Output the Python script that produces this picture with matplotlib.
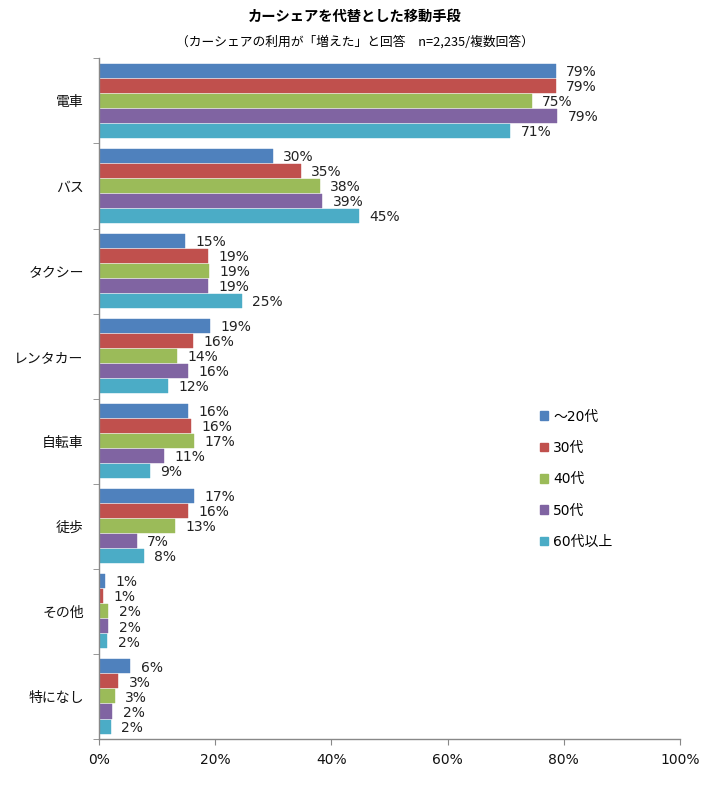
import matplotlib
matplotlib.use("Agg")
import matplotlib.pyplot as plt
from matplotlib.patches import Patch
import numpy as np

plt.rcParams['font.family'] = ['Noto Sans CJK JP', 'DejaVu Sans']
NUMFONT = ['DejaVu Sans', 'Noto Sans CJK JP']

categories = ["電車", "バス", "タクシー", "レンタカー", "自転車", "徒歩", "その他", "特になし"]
series_names = ["～20代", "30代", "40代", "50代", "60代以上"]
colors = ["#4F81BD", "#C0504D", "#9BBB59", "#8064A2", "#4BACC6"]

# bar lengths (%) per series, in category order
v20 = [78.6, 29.9, 14.8, 19.1, 15.4, 16.4, 1.0, 5.4]
v30 = [78.6, 34.7, 18.7, 16.2, 15.8, 15.4, 0.7, 3.3]
v40 = [74.5, 38.0, 18.9, 13.5, 16.4, 13.0, 1.6, 2.7]
v50 = [78.9, 38.4, 18.7, 15.4, 11.2, 6.5, 1.6, 2.3]
v60 = [70.8, 44.7, 24.6, 11.9, 8.8, 7.7, 1.4, 2.0]

# data labels as printed
l20 = ["79%", "30%", "15%", "19%", "16%", "17%", "1%", "6%"]
l30 = ["79%", "35%", "19%", "16%", "16%", "16%", "1%", "3%"]
l40 = ["75%", "38%", "19%", "14%", "17%", "13%", "2%", "3%"]
l50 = ["79%", "39%", "19%", "16%", "11%", "7%", "2%", "2%"]
l60 = ["71%", "45%", "25%", "12%", "9%", "8%", "2%", "2%"]

xticks = [0, 20, 40, 60, 80, 100]
xticklabels = ["0%", "20%", "40%", "60%", "80%", "100%"]

values = [v20, v30, v40, v50, v60]
labels = [l20, l30, l40, l50, l60]

fig = plt.figure(figsize=(7.10, 7.87), dpi=100)
ax = fig.add_axes([99/710, 1-739/787, (680-99)/710, (739-58.4)/787])

n = len(categories)
pitch = 0.1767
height = 0.165
centers = np.arange(n)
for s in range(5):
    ypos = centers - 2*pitch + s*pitch
    ax.barh(ypos, values[s], height=height, color=colors[s], edgecolor=colors[s],
            linewidth=0.3, zorder=2)
    for y, v, lab in zip(ypos, values[s], labels[s]):
        ax.annotate(lab, xy=(v, y), xytext=(7.5, -0.8), textcoords="offset points",
                    ha="left", va="center", fontsize=10, color="#222222",
                    family=NUMFONT)

ax.set_ylim(n - 0.5, -0.5)
ax.set_xlim(0, 100)
ax.set_yticks(centers)
ax.set_yticklabels(categories, fontsize=10, color="#111111")
ax.tick_params(axis='y', which='major', length=0, pad=11)
ax.set_yticks(np.arange(n + 1) - 0.5, minor=True)
ax.tick_params(axis='y', which='minor', length=4, color="#888888", direction='out')
ax.set_xticks(xticks)
ax.set_xticklabels(xticklabels, fontsize=10, family=NUMFONT, color="#111111")
ax.tick_params(axis='x', length=4, color="#888888", pad=6)
for sp in ["top", "right"]:
    ax.spines[sp].set_visible(False)
for sp in ["left", "bottom"]:
    ax.spines[sp].set_color("#888888")
    ax.spines[sp].set_linewidth(1.0)

fig.text(0.5, 1-17/787, "カーシェアを代替とした移動手段", ha="center", va="center",
         fontsize=10.3, fontweight="bold")
fig.text(0.5, 1-42/787, "（カーシェアの利用が「増えた」と回答　n=2,235/複数回答）", ha="center",
         va="center", fontsize=9.2)

handles = [Patch(facecolor=c, edgecolor=c) for c in colors]
leg = fig.legend(handles, series_names, loc="upper left",
                 bbox_to_anchor=(527/710, 1-397/787), frameon=False,
                 prop={'family': NUMFONT, 'size': 10}, handlelength=0.6, handleheight=0.6,
                 handletextpad=0.4, labelspacing=1.25)

fig.savefig("out.png", dpi=100)
